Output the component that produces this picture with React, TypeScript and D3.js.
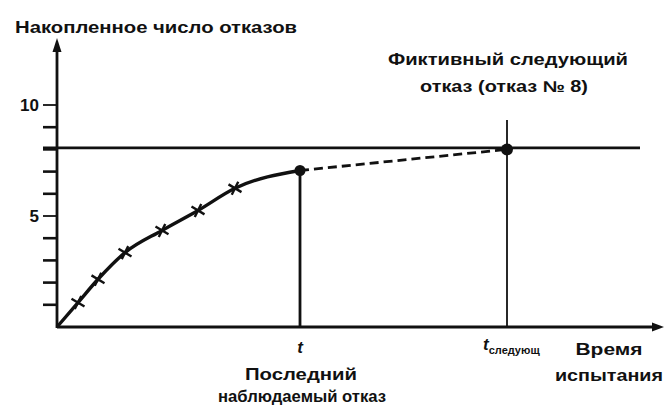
import { useEffect, useRef } from "react";
import * as d3 from "d3";

// observed failures: test time (arbitrary units) and accumulated count
const failureTimes = [2.1, 4.1, 6.8, 10.5, 14.1, 17.8, 24.3];
const failureCounts = [1.1, 2.15, 3.35, 4.35, 5.25, 6.25, 7.05];
const lastTime = 24.3;
const nextTime = 45.0;
const nextCount = 8;
const yTicks = [1, 2, 3, 4, 5, 6, 7, 8, 9, 10];
const yLabels = [5, 10];

const W = 664;
const H = 405;
const FONT = "'Liberation Sans', Arial, sans-serif";

export default function App() {
  const svgRef = useRef<SVGSVGElement>(null);

  useEffect(() => {
    if (!svgRef.current) return;
    const svg = d3.select(svgRef.current);
    svg.selectAll("*").remove();

    const x = d3.scaleLinear().domain([0, 60]).range([57, 657]);
    const y = d3.scaleLinear().domain([0, 10]).range([327, 105]);
    const x0 = x(0);
    const y0 = y(0);

    const g = svg.append("g").attr("fill", "none").attr("stroke", "#111");

    // y axis with arrow
    g.append("line")
      .attr("x1", x0).attr("x2", x0)
      .attr("y1", y0 + 1).attr("y2", 48)
      .attr("stroke-width", 2.8);
    svg.append("path")
      .attr("d", `M${x0},38 L${x0 - 4.5},52 L${x0 + 4.5},52 Z`)
      .attr("fill", "#111");

    // x axis with arrow
    g.append("line")
      .attr("x1", x0).attr("x2", W - 8)
      .attr("y1", y0).attr("y2", y0)
      .attr("stroke-width", 2.8);
    svg.append("path")
      .attr("d", `M${W},${y0} L${W - 12},${y0 - 4.5} L${W - 12},${y0 + 4.5} Z`)
      .attr("fill", "#111");

    // y ticks
    g.selectAll(".tick")
      .data(yTicks)
      .join("line")
      .attr("x1", x0 - 14).attr("x2", x0)
      .attr("y1", (d) => y(d)).attr("y2", (d) => y(d))
      .attr("stroke-width", (d) => (yLabels.includes(d) ? 1.8 : 2.6));

    svg.selectAll(".ylab")
      .data(yLabels)
      .join("text")
      .attr("x", x0 - 18)
      .attr("y", (d) => y(d) + 2)
      .attr("text-anchor", "end")
      .attr("dominant-baseline", "middle")
      .attr("font-family", FONT)
      .attr("font-weight", "bold")
      .attr("font-size", 17)
      .attr("fill", "#111")
      .text((d) => d);

    // horizontal level of the fictitious failure
    g.append("line")
      .attr("x1", x0 - 14).attr("x2", x(58.3))
      .attr("y1", y(nextCount) - 1.5).attr("y2", y(nextCount) - 1.5)
      .attr("stroke-width", 2.6);

    // verticals
    g.append("line")
      .attr("x1", x(lastTime)).attr("x2", x(lastTime))
      .attr("y1", y(failureCounts[failureCounts.length - 1])).attr("y2", y0)
      .attr("stroke-width", 2.8);
    g.append("line")
      .attr("x1", x(nextTime)).attr("x2", x(nextTime))
      .attr("y1", 120).attr("y2", y0)
      .attr("stroke-width", 1.8);

    // fitted curve through observed failures
    const pts: [number, number][] = [[0, 0], ...failureTimes.map((t, i) => [t, failureCounts[i]] as [number, number])];
    const line = d3.line<[number, number]>()
      .x((d) => x(d[0]))
      .y((d) => y(d[1]))
      .curve(d3.curveMonotoneX);
    g.append("path").attr("d", line(pts)).attr("stroke-width", 3.4);

    // dashed extrapolation
    g.append("line")
      .attr("x1", x(lastTime)).attr("y1", y(failureCounts[failureCounts.length - 1]))
      .attr("x2", x(nextTime)).attr("y2", y(nextCount))
      .attr("stroke-width", 2.8)
      .attr("stroke-dasharray", "9 5");

    // cross markers
    failureTimes.slice(0, -1).forEach((t, i) => {
      const cx = x(t);
      const cy = y(failureCounts[i]);
      const s = 6.5;
      g.append("path")
        .attr("d", `M${cx - s},${cy - s * 0.6} L${cx + s},${cy + s * 0.6} M${cx - s * 0.5},${cy + s} L${cx + s * 0.5},${cy - s}`)
        .attr("stroke-width", 2.4);
    });

    svg.append("circle")
      .attr("cx", x(lastTime)).attr("cy", y(failureCounts[failureCounts.length - 1]))
      .attr("r", 5.5).attr("fill", "#111");
    svg.append("circle")
      .attr("cx", x(nextTime)).attr("cy", y(nextCount))
      .attr("r", 6).attr("fill", "#111");

    // labels
    const label = (txt: string, px: number, py: number, len: number, anchor = "middle", size = 16) =>
      svg.append("text")
        .attr("x", px).attr("y", py)
        .attr("text-anchor", anchor)
        .attr("font-family", FONT)
        .attr("font-weight", "bold")
        .attr("font-size", size)
        .attr("fill", "#111")
        .attr("textLength", len)
        .attr("lengthAdjust", "spacingAndGlyphs")
        .text(txt);

    label("Накопленное число отказов", 15, 33, 282, "start");
    label("Фиктивный следующий", 508, 65, 240);
    label("отказ (отказ № 8)", 504, 92, 168);
    label("Последний", 301, 380, 112);
    label("наблюдаемый отказ", 302, 402, 168);
    label("Время", 609, 355, 67);
    label("испытания", 609, 381, 108);

    svg.append("text")
      .attr("x", x(lastTime)).attr("y", 353)
      .attr("text-anchor", "middle")
      .attr("font-family", FONT)
      .attr("font-style", "italic")
      .attr("font-weight", "bold")
      .attr("font-size", 17)
      .attr("fill", "#111")
      .text("t");

    const tn = svg.append("text")
      .attr("x", x(nextTime) - 24).attr("y", 350)
      .attr("font-family", FONT)
      .attr("font-weight", "bold")
      .attr("fill", "#111");
    tn.append("tspan").attr("font-size", 17).attr("font-style", "italic").text("t");
    tn.append("tspan").attr("font-size", 11).attr("dy", 4).text("следующ");
  }, []);

  return (
    <svg
      ref={svgRef}
      width={W}
      height={H}
      style={{ position: "absolute", left: 0, top: 0, background: "#fff" }}
    />
  );
}
